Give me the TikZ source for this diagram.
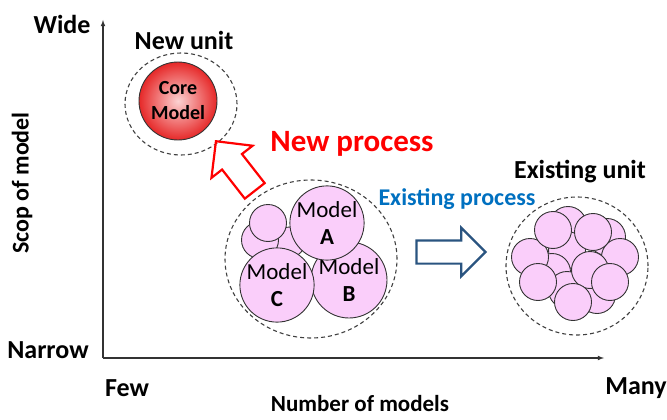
\documentclass[tikz,border=0pt]{standalone}
\usepackage{fontspec}
\setmainfont{Carlito}
\usetikzlibrary{arrows,shapes.geometric,shapes.arrows}
\definecolor{modelpink}{RGB}{250,206,250}
\definecolor{corered}{RGB}{230,40,40}
\definecolor{corelight}{RGB}{252,210,210}
\definecolor{procblue}{RGB}{0,112,192}
\definecolor{arrowblue}{RGB}{42,84,128}
\tikzstyle{axis}=[line width=1.1pt, black!80, -latex]
\tikzstyle{title}=[font=\bfseries\fontsize{26}{30}\selectfont]
\tikzstyle{unit}=[ellipse, draw=black!75, dashed, dash pattern=on 4pt off 3pt,
line width=1.1pt, inner sep=0pt]
\tikzstyle{model}=[circle, draw=black!80, fill=modelpink, line width=0.9pt,
inner sep=0pt, align=center, font=\fontsize{23}{27}\selectfont]
\tikzstyle{small}=[model, minimum size=37pt]
\tikzstyle{core}=[circle, draw=black!80, line width=0.9pt, inner color=corelight,
outer color=corered, minimum size=78pt, align=center,
font=\bfseries\fontsize{20}{25}\selectfont]
\tikzstyle{block}=[single arrow, line width=2.2pt, inner xsep=0pt,
single arrow tip angle=90]

\begin{document}
\begin{tikzpicture}[x=1pt,y=-1pt]
\useasboundingbox (0,0) rectangle (667,420);
% axes
\coordinate (origin) at (103,358);
\coordinate (ytip) at (103,20);
\coordinate (xtip) at (604,358);
\draw[axis] (origin) -- (ytip);
\draw[axis] (origin) -- (xtip);
\node[title](wide)at (62,24) {Wide};
\node[title](narrow)at (48,350) {Narrow};
\node[title, rotate=90, font=\bfseries\fontsize{24}{28}\selectfont](scope)at (22,183) {Scop of model};
\node[title](few)at (127,388) {Few};
\node[title](many)at (636,388) {Many};
\node[title, font=\bfseries\fontsize{23}{27}\selectfont](number)at (360,404) {Number of models};

% new unit
\node[unit, minimum width=112pt, minimum height=102pt](newunit)at (181,104) {};
\node[core](core)at (178,101) {Core\\Model};
\node[title](newlabel)at (184,40) {New unit};

% old unit with models A, B, C
\node[unit, minimum width=172pt, minimum height=158pt](oldunit)at (311,259) {};
\node[small, minimum size=30pt](s1)at (290,242) {};
\node[small](s2)at (260,240) {};
\node[small](s3)at (268,223) {};
\node[model, minimum size=76pt](modelB)at (349,280) {Model\\\textbf{B}};
\node[model, minimum size=70pt](modelC)at (277,285) {Model\\\textbf{C}};
\node[model, minimum size=70pt](modelA)at (327,223) {Model\\\textbf{A}};

% existing unit
\node[unit, minimum width=142pt, minimum height=138pt](existunit)at (577,266) {};
\node[small](c1)at (568,225) {};
\node[small](c2)at (607,237) {};
\node[small](c3)at (567,250) {};
\node[small](c4)at (552,272) {};
\node[small](c5)at (567,290) {};
\node[small](c6)at (597,295) {};
\node[small](c7)at (530,257) {};
\node[small](c8)at (620,257) {};
\node[small](c9)at (590,270) {};
\node[small](c10)at (553,230) {};
\node[small](c11)at (593,232) {};
\node[small](c12)at (538,282) {};
\node[small](c13)at (610,282) {};
\node[small](c14)at (573,302) {};
\node[title](existlabel)at (580,172) {Existing unit};

% processes
\node[block, draw=red, rotate=128, anchor=tip, inner ysep=11.5pt,
single arrow head extend=13.5pt, minimum height=63pt](newproc)at (215,140) {};
\node[font=\bfseries\fontsize{31}{35}\selectfont, text=red](newtext)at (352,144) {New process};
\node[block, draw=arrowblue, anchor=tip, inner ysep=10.5pt,
single arrow head extend=12.5pt, minimum height=69pt](oldproc)at (487,252) {};
\node[font=\bfseries\fontsize{24}{28}\selectfont, text=procblue](oldtext)at (457,199) {Existing process};
\end{tikzpicture}
\end{document}
